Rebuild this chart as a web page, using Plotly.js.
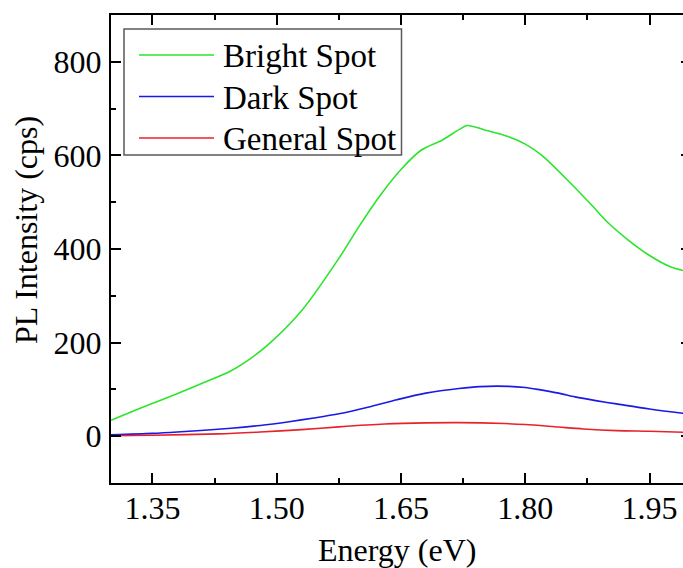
<!DOCTYPE html>
<html>
<head>
<meta charset="utf-8">
<script src="https://cdn.plot.ly/plotly-3.0.1.min.js"></script>
<style>
  html, body { margin: 0; padding: 0; background: #fff; overflow: hidden; width: 683px; height: 568px; }
  #chart { width: 720px; height: 568px; }
</style>
</head>
<body>
<div id="chart"></div>
<script>
// ---- Data ----
const seriesNames = ["Bright Spot", "Dark Spot", "General Spot"];
const seriesColors = ["#2be52b", "#1a1ae6", "#e8222a"];

const brightEnergy = [1.30, 1.33, 1.36, 1.39, 1.41, 1.445, 1.47, 1.49, 1.53, 1.575, 1.60, 1.625, 1.65, 1.675, 1.70, 1.72, 1.73, 1.75, 1.78, 1.80, 1.82, 1.855, 1.88, 1.90, 1.925, 1.95, 1.975, 2.00];
const brightPL     = [34, 56, 77, 98, 113, 140, 168, 196, 268, 380, 450, 515, 570, 612, 633, 655, 664, 655, 640, 624, 600, 540, 494, 456, 418, 386, 362, 350];

const darkEnergy = [1.30, 1.35, 1.38, 1.445, 1.48, 1.515, 1.545, 1.575, 1.61, 1.645, 1.68, 1.72, 1.745, 1.78, 1.80, 1.815, 1.84, 1.86, 1.885, 1.91, 1.95, 1.99, 2.00];
const darkPL     = [3, 6, 9, 17, 23, 31, 39, 48, 62, 78, 92, 102, 106, 106.5, 104, 100, 92, 84, 76, 69, 58, 49, 47];

const generalEnergy = [1.30, 1.35, 1.43, 1.48, 1.53, 1.575, 1.63, 1.68, 1.72, 1.775, 1.80, 1.84, 1.87, 1.91, 1.95, 2.00];
const generalPL     = [1, 2, 5, 9, 14, 20, 26, 28.5, 29, 27, 25, 19.5, 15.5, 12, 10.5, 8];

const xTickVals = [1.35, 1.50, 1.65, 1.80, 1.95];
const xTickText = ["1.35", "1.50", "1.65", "1.80", "1.95"];
const yTickVals = [0, 200, 400, 600, 800];
const yTickText = ["0", "200", "400", "600", "800"];

const xTitle = "Energy (eV)";
const yTitle = "PL Intensity (cps)";

// ---- Layout geometry ----
const W = 720, H = 568;
const M = { l: 111, r: 29, t: 15, b: 85 };
const plotW = W - M.l - M.r, plotH = H - M.t - M.b;
const px2x = (px) => (px - M.l) / plotW;
const py2y = (py) => (H - M.b - py) / plotH;

const FONT = "'Liberation Serif', 'Times New Roman', 'DejaVu Serif', serif";

const xs = [brightEnergy, darkEnergy, generalEnergy];
const ys = [brightPL, darkPL, generalPL];

const traces = seriesNames.map((name, i) => ({
  type: "scatter",
  mode: "lines",
  name: name,
  x: xs[i],
  y: ys[i],
  line: { color: seriesColors[i], width: 1.6, shape: "spline", smoothing: 0.8 },
  showlegend: false,
  hoverinfo: "skip"
}));

// custom legend (long line samples like the reference)
const legendRowsY = [55, 96.5, 138];
const shapes = [
  { type: "rect", xref: "paper", yref: "paper",
    x0: px2x(124), x1: px2x(401.5), y0: py2y(155), y1: py2y(29),
    line: { color: "#5a5a5a", width: 1.5 }, fillcolor: "rgba(0,0,0,0)", layer: "above" }
];
const annotations = [];
seriesNames.forEach((name, i) => {
  shapes.push({ type: "line", xref: "paper", yref: "paper",
    x0: px2x(139), x1: px2x(214), y0: py2y(legendRowsY[i]), y1: py2y(legendRowsY[i]),
    line: { color: seriesColors[i], width: 1.6 } });
  annotations.push({ xref: "paper", yref: "paper", x: px2x(221), y: py2y(legendRowsY[i] + 1),
    xanchor: "left", yanchor: "middle", showarrow: false, text: name,
    font: { family: FONT, size: 33, color: "#000" } });
});
annotations.push({ xref: "paper", yref: "paper", x: px2x(397), y: py2y(550),
  xanchor: "center", yanchor: "middle", showarrow: false, text: xTitle,
  font: { family: FONT, size: 32, color: "#000" } });
annotations.push({ xref: "paper", yref: "paper", x: px2x(26), y: py2y(230),
  xanchor: "center", yanchor: "middle", showarrow: false, text: yTitle, textangle: -90,
  font: { family: FONT, size: 32, color: "#000" } });

const axisCommon = {
  showgrid: false, zeroline: false, showline: true, linecolor: "#000", linewidth: 2,
  mirror: "ticks", ticks: "inside", ticklen: 10, tickwidth: 2, tickcolor: "#000",
  tickfont: { family: FONT, size: 32, color: "#000" }
};

const layout = {
  width: W, height: H,
  margin: M,
  paper_bgcolor: "#fff", plot_bgcolor: "#fff",
  xaxis: Object.assign({}, axisCommon, {
    range: [1.30, 2.00], tickmode: "array", tickvals: xTickVals, ticktext: xTickText,
    ticklabelstandoff: -4,
    minor: { ticks: "inside", ticklen: 5, tickwidth: 2, tickcolor: "#000", dtick: 0.075, tick0: 1.275, showgrid: false }
  }),
  yaxis: Object.assign({}, axisCommon, {
    range: [-100, 900], tickmode: "array", tickvals: yTickVals, ticktext: yTickText,
    ticklabelstandoff: 1,
    minor: { ticks: "inside", ticklen: 5, tickwidth: 2, tickcolor: "#000", dtick: 100, tick0: 0, showgrid: false }
  }),
  shapes: shapes,
  annotations: annotations,
  showlegend: false
};

Plotly.newPlot("chart", traces, layout, { staticPlot: true, displayModeBar: false });
</script>
</body>
</html>
